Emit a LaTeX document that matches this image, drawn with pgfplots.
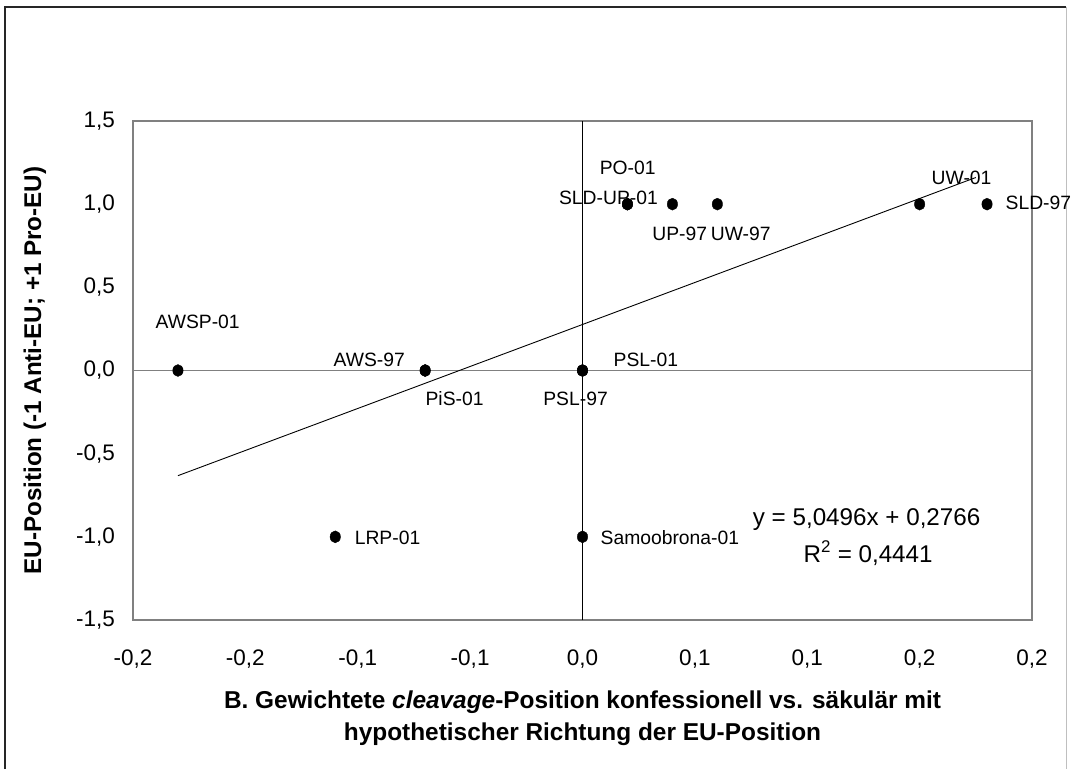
\documentclass[border=0pt]{standalone}
\usepackage{pgfplots}
\pgfplotsset{compat=1.18}
\usepackage{fontspec}
\setmainfont{Liberation Sans}
\definecolor{framegray}{RGB}{128,128,128}

\begin{document}
\begin{tikzpicture}[x=1pt,y=1pt]
\useasboundingbox (0,0) rectangle (1073,769);
\draw[line width=1.3pt, black!85] (5,0) -- (5,762) -- (1066,762);
\draw[line width=1pt, black!25] (1066,762) -- (1066,0);
\begin{axis}[
  at={(133pt,149pt)}, anchor=south west,
  width=899pt, height=499pt, scale only axis,
  xmin=-0.2, xmax=0.2, ymin=-1.5, ymax=1.5,
  xtick={-0.2,-0.15,-0.1,-0.05,0,0.05,0.1,0.15,0.2},
  xticklabels={{-0,2},{-0,2},{-0,1},{-0,1},{0,0},{0,1},{0,1},{0,2},{0,2}},
  ytick={-1.5,-1,-0.5,0,0.5,1,1.5},
  yticklabels={{-1,5},{-1,0},{-0,5},{0,0},{0,5},{1,0},{1,5}},
  major tick length=0pt,
  axis line style={framegray, line width=1.3pt},
  tick label style={font=\fontsize{22.5}{26}\selectfont, inner sep=0pt},
  xticklabel style={anchor=north, yshift=-30pt},
  yticklabel style={anchor=east, xshift=-18pt},
  clip=false,
]
% axes crossing at zero
\draw[line width=0.9pt, black] (axis cs:0,-1.5) -- (axis cs:0,1.5);
\draw[line width=1pt, framegray] (axis cs:-0.2,0) -- (axis cs:0.2,0);
% linear trend line
\addplot[black, line width=0.9pt] coordinates {(-0.18,-0.6323) (0.175,1.1603)};
% data points
\addplot[only marks, mark=*, mark size=5.2pt, mark options={fill=black, draw=black, yscale=1.15}] table {
x y
-0.18 0
-0.07 0
-0.07 0
0 0
0 0
-0.11 -1
0 -1
0.02 1
0.02 1
0.04 1
0.06 1
0.15 1
0.18 1
};
% data labels
\begin{scope}[every node/.style={anchor=base west, inner sep=0pt, font=\fontsize{19.3}{22}\selectfont}]
\node at (axis cs:-0.1900,0.2555) {AWSP-01};
\node at (axis cs:-0.1108,0.0270) {AWS-97};
\node at (axis cs:-0.0699,-0.2134) {PiS-01};
\node at (axis cs:-0.0175,-0.2134) {PSL-97};
\node at (axis cs:0.0138,0.0270) {PSL-01};
\node at (axis cs:-0.1014,-1.045) {LRP-01};
\node at (axis cs:0.0080,-1.045) {Samoobrona-01};
\node at (axis cs:0.0076,1.1796) {PO-01};
\node at (axis cs:-0.0105,0.9992) {SLD-UP-01};
\node at (axis cs:0.0310,0.7804) {UP-97};
\node at (axis cs:0.0570,0.7804) {UW-97};
\node at (axis cs:0.1553,1.1153) {UW-01};
\node at (axis cs:0.1882,0.9650) {SLD-97};
\end{scope}
\node[anchor=base east, inner sep=0pt, font=\fontsize{24.2}{27}\selectfont] at (axis cs:0.1771,-0.9289) {y = 5,0496x + 0,2766};
\node[anchor=base west, inner sep=0pt, font=\fontsize{24.2}{27}\selectfont] at (axis cs:0.0983,-1.1513) {R\textsuperscript{2} = 0,4441};
\end{axis}
\node[anchor=base, inner sep=0pt, font=\bfseries\fontsize{24.4}{27}\selectfont] at (582.5,61) {B. Gewichtete \textit{cleavage}-Position konfessionell vs. säkulär mit};
\node[anchor=base, inner sep=0pt, font=\bfseries\fontsize{24.4}{27}\selectfont] at (582.5,29) {hypothetischer Richtung der EU-Position};
\node[rotate=90, anchor=base, inner sep=0pt, font=\bfseries\fontsize{24.2}{27}\selectfont] at (41,398.5) {EU-Position (-1 Anti-EU; +1 Pro-EU)};
\end{tikzpicture}
\end{document}
